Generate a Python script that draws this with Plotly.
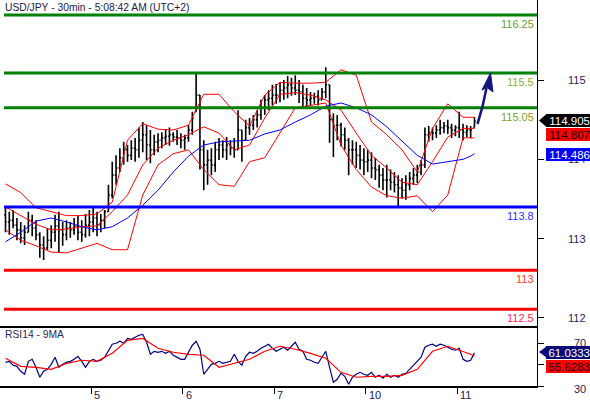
import plotly.graph_objects as go

# ---------------- data ----------------
title_text = "USD/JPY - 30min - 5:08:42 AM (UTC+2)"
rsi_title = "RSI14 - 9MA"

bar_idx = list(range(124))

opens = [113.30, 113.21, 113.23, 113.17, 113.11, 113.01, 113.08, 113.23, 113.13, 113.05, 112.92, 112.88, 112.98, 113.08, 113.16, 113.11, 113.05, 113.13, 113.11, 113.16, 113.08, 113.05, 113.17,
         113.21, 113.26, 113.17, 113.23, 113.34, 113.55, 113.80, 113.89, 114.02, 114.12, 114.05, 114.14, 114.12, 114.24, 114.31, 114.18, 114.12, 114.22, 114.24, 114.27, 114.29, 114.31, 114.28, 114.27,
         114.24, 114.27, 114.37, 114.60, 114.81, 114.12, 113.93, 113.99, 113.93, 114.12, 114.18, 114.12, 114.18, 114.14, 114.12, 114.37, 114.24, 114.40, 114.43, 114.50, 114.56, 114.65, 114.75, 114.77,
         114.81, 114.81, 114.87, 114.90, 114.94, 114.90, 114.87, 114.85, 114.77, 114.75, 114.77, 114.79, 114.75, 114.85, 114.94, 114.50, 114.43, 114.43, 114.31, 114.24, 114.12, 114.12, 114.05, 113.99,
         113.97, 113.99, 113.89, 113.87, 113.80, 113.74, 113.74, 113.71, 113.68, 113.64, 113.61, 113.68, 113.76, 113.80, 113.84, 113.93, 114.31, 114.34, 114.33, 114.37, 114.40, 114.42, 114.40, 114.37,
         114.40, 114.37, 114.34, 114.37, 114.40]
highs = [113.39, 113.34, 113.36, 113.26, 113.21, 113.17, 113.34, 113.30, 113.23, 113.08, 113.03, 113.13, 113.17, 113.30, 113.34, 113.21, 113.23, 113.21, 113.26, 113.29, 113.23, 113.31, 113.36,
         113.40, 113.34, 113.31, 113.36, 113.68, 113.97, 114.05, 114.14, 114.22, 114.18, 114.24, 114.27, 114.40, 114.47, 114.43, 114.37, 114.31, 114.33, 114.34, 114.37, 114.40, 114.34, 114.37, 114.33,
         114.31, 114.43, 114.60, 115.09, 114.81, 114.24, 114.12, 114.14, 114.22, 114.27, 114.24, 114.28, 114.24, 114.27, 114.62, 114.37, 114.50, 114.52, 114.56, 114.62, 114.75, 114.81, 114.87, 114.94,
         114.95, 114.97, 115.00, 115.05, 115.03, 115.06, 115.00, 114.94, 114.90, 114.85, 114.84, 114.87, 114.90, 115.16, 114.94, 114.58, 114.56, 114.46, 114.40, 114.27, 114.24, 114.22, 114.18, 114.14,
         114.12, 114.09, 114.02, 113.93, 113.89, 113.93, 113.87, 113.84, 113.80, 113.76, 113.80, 113.84, 113.89, 113.93, 113.99, 114.40, 114.42, 114.40, 114.43, 114.50, 114.47, 114.50, 114.45, 114.43,
         114.60, 114.45, 114.43, 114.42, 114.53]
lows = [113.08, 113.05, 113.13, 112.98, 112.94, 112.92, 113.08, 113.03, 112.98, 112.76, 112.73, 112.86, 112.88, 112.96, 112.82, 112.91, 112.98, 113.01, 113.05, 112.98, 112.96, 113.01, 113.03,
        113.08, 113.03, 113.08, 113.13, 113.34, 113.51, 113.68, 113.84, 113.93, 113.97, 113.99, 113.97, 114.02, 114.09, 113.99, 113.95, 114.05, 114.09, 114.14, 114.18, 114.17, 114.22, 114.18, 114.14,
        114.12, 114.22, 114.31, 114.60, 113.87, 113.61, 113.68, 113.80, 113.84, 113.99, 114.02, 113.99, 114.05, 114.02, 114.12, 113.97, 114.24, 114.31, 114.37, 114.40, 114.50, 114.56, 114.62, 114.68,
        114.70, 114.72, 114.75, 114.77, 114.80, 114.81, 114.71, 114.67, 114.66, 114.68, 114.70, 114.68, 114.75, 114.77, 114.21, 114.03, 114.24, 114.16, 114.12, 113.80, 113.93, 113.89, 113.87, 113.80,
        113.84, 113.76, 113.74, 113.64, 113.61, 113.52, 113.61, 113.58, 113.41, 113.51, 113.49, 113.61, 113.68, 113.70, 113.80, 113.89, 114.22, 114.24, 114.27, 114.31, 114.33, 114.32, 114.27, 114.29,
        114.27, 114.24, 114.28, 114.27, 114.40]
closes = [113.21, 113.23, 113.17, 113.11, 113.01, 113.08, 113.23, 113.13, 113.05, 112.92, 112.88, 112.98, 113.08, 113.16, 113.11, 113.05, 113.13, 113.11, 113.16, 113.08, 113.05, 113.17, 113.21,
          113.26, 113.17, 113.23, 113.34, 113.55, 113.80, 113.89, 114.02, 114.12, 114.05, 114.14, 114.12, 114.24, 114.31, 114.18, 114.12, 114.22, 114.24, 114.27, 114.29, 114.31, 114.28, 114.27, 114.24,
          114.27, 114.37, 114.52, 114.81, 114.12, 113.93, 113.99, 113.93, 114.12, 114.18, 114.12, 114.18, 114.14, 114.12, 114.37, 114.24, 114.40, 114.43, 114.50, 114.56, 114.65, 114.75, 114.77, 114.81,
          114.81, 114.87, 114.90, 114.94, 114.90, 114.87, 114.85, 114.77, 114.75, 114.77, 114.79, 114.75, 114.85, 114.94, 114.50, 114.43, 114.43, 114.31, 114.24, 114.12, 114.12, 114.05, 113.99, 113.97,
          113.99, 113.89, 113.87, 113.80, 113.74, 113.74, 113.71, 113.68, 113.64, 113.61, 113.68, 113.76, 113.80, 113.84, 113.93, 114.31, 114.34, 114.33, 114.37, 114.40, 114.42, 114.40, 114.37, 114.40,
          114.37, 114.34, 114.37, 114.37, 114.48]

band_idx = [0, 4, 8, 12, 16, 20, 24, 28, 32, 36, 40, 44, 48, 52, 56, 60, 64, 68, 72, 76, 80, 84, 88, 92,
            96, 100, 104, 108, 112, 116, 120, 122, 123]
bb_upper = [113.69, 113.58, 113.39, 113.34, 113.29, 113.29, 113.31, 113.46, 114.24, 114.45, 114.38, 114.37, 114.43,
            114.82, 114.82, 114.60, 114.42, 114.81, 114.97, 114.96, 114.96, 114.97, 115.13, 115.06, 114.47, 114.31,
            114.12, 113.84, 114.39, 114.70, 114.53, 114.53, 114.53]
bb_middle = [113.40, 113.29, 113.18, 113.11, 113.12, 113.15, 113.16, 113.34, 113.55, 113.93, 114.14, 114.24, 114.31,
             114.41, 114.33, 114.12, 114.18, 114.52, 114.82, 114.84, 114.81, 114.75, 114.62, 114.33, 114.05, 113.89,
             113.71, 113.68, 113.97, 114.28, 114.39, 114.39, 114.39]
bb_lower = [113.11, 112.98, 112.91, 112.83, 112.82, 112.88, 112.94, 112.86, 112.86, 113.55, 113.93, 114.07, 114.12,
            113.87, 113.68, 113.66, 113.97, 114.02, 114.33, 114.65, 114.68, 114.71, 114.18, 113.87, 113.65, 113.54,
            113.51, 113.54, 113.34, 113.55, 114.27, 114.27, 114.27]
ma_blue = [112.96, 113.08, 113.22, 113.26, 113.21, 113.15, 113.11, 113.15, 113.26, 113.42, 113.61, 113.84, 114.04,
           114.18, 114.22, 114.23, 114.24, 114.32, 114.37, 114.47, 114.56, 114.67, 114.71, 114.65, 114.56, 114.41,
           114.23, 114.05, 113.94, 113.97, 114.00, 114.04, 114.07]

rsi14 = [52.2, 53.1, 49.4, 48.4, 43.8, 41.0, 53.1, 55.0, 47.5, 38.2,
         43.8, 45.6, 50.3, 56.9, 47.5, 50.3, 52.2, 53.1, 55.0, 57.8,
         53.1, 47.5, 53.1, 55.0, 53.1, 54.1, 56.9, 62.5, 69.1, 70.0,
         71.9, 70.0, 74.6, 73.7, 75.6, 77.5, 78.4, 70.9, 59.7, 62.5,
         61.6, 62.5, 60.6, 62.5, 58.8, 56.9, 55.0, 55.0, 61.6, 68.2,
         71.9, 64.4, 41.0, 45.6, 50.3, 51.2, 53.1, 51.2, 52.2, 53.1,
         59.7, 53.1, 49.4, 57.8, 61.6, 60.6, 62.5, 65.3, 67.2, 69.1,
         65.3, 62.5, 64.4, 66.3, 63.5, 67.2, 70.9, 64.4, 62.5, 55.0,
         54.1, 52.2, 51.2, 56.9, 62.5, 47.5, 33.5, 36.3, 41.9, 39.1,
         31.6, 38.2, 41.0, 42.8, 41.0, 40.0, 42.8, 38.2, 40.0, 37.2,
         41.0, 38.2, 40.0, 38.2, 41.0, 41.9, 45.6, 49.4, 53.1, 56.9,
         66.3, 68.2, 69.1, 67.2, 69.1, 68.2, 66.3, 64.4, 63.5, 65.3,
         55.0, 53.1, 54.1, 61.0]
rsi_ma9 = [56.0, 48.4, 47.5, 45.6, 51.2, 54.1, 53.1, 60.6, 72.8, 74.6, 65.3, 61.6, 59.7, 58.8, 47.5, 51.2, 55.0,
           62.5, 67.2, 64.4, 60.6, 56.0, 42.8, 38.2, 39.1, 39.1, 40.0, 45.6, 62.5, 67.2, 62.5, 59.7, 57.8]

day_ticks = [22.5, 46.5, 70.5, 94.5, 118.5]
day_labels = ["5", "6", "7", "10", "11"]

price_ticks = [112, 113, 114, 115]
price_tick_labels = ["112", "113", "114", "115"]
rsi_ticks = [30, 50, 70]
rsi_tick_labels = ["30", "50", "70"]

level_values = [115.82, 115.09, 114.65, 113.40, 112.60, 112.11]
level_labels = ["116.25", "115.5", "115.05", "113.8", "113", "112.5"]
level_colors = ["#008000", "#008000", "#008000", "#0000ff", "#ff0000", "#ff0000"]
level_text_colors = ["#6c9c2c", "#8cb02a", "#7aa42a", "#3030ff", "#ff3a1a", "#ff2a4a"]

price_tags = ["114.905", "114.807", "114.486"]
rsi_tags = ["61.0333", "55.6283"]

# ---------------- layout helpers (pixel -> paper) ----------------
W, H = 590, 400
ML, MR, MT, MB = 0, 53, 0, 14
PW, PH = W - ML - MR, H - MT - MB


def px(x):
    return (x - ML) / PW


def py(y):
    return (H - MB - y) / PH


FONT = "Liberation Sans, Arial, sans-serif"
main_dom = [py(326), 1.0]
rsi_dom = [0.0, py(326)]
x_range = [-1.44, 139.4]

fig = go.Figure()

fig.add_trace(go.Ohlc(
    x=bar_idx, open=opens, high=highs, low=lows, close=closes,
    increasing=dict(line=dict(color="black", width=1.6)),
    decreasing=dict(line=dict(color="black", width=1.6)),
    tickwidth=0.35, hoverinfo="skip", xaxis="x", yaxis="y"))

for band in (bb_upper, bb_middle, bb_lower):
    fig.add_trace(go.Scatter(x=band_idx, y=band, mode="lines",
                             line=dict(color="#ff0000", width=1), xaxis="x", yaxis="y", hoverinfo="skip"))
fig.add_trace(go.Scatter(x=band_idx, y=ma_blue, mode="lines",
                         line=dict(color="#0000ff", width=1), xaxis="x", yaxis="y", hoverinfo="skip"))

fig.add_trace(go.Scatter(x=bar_idx, y=rsi14, mode="lines",
                         line=dict(color="#000080", width=1.2), xaxis="x2", yaxis="y2", hoverinfo="skip"))
fig.add_trace(go.Scatter(x=band_idx, y=rsi_ma9, mode="lines",
                         line=dict(color="#ff0000", width=1.2), xaxis="x2", yaxis="y2", hoverinfo="skip"))

shapes = []
for val, col in zip(level_values, level_colors):
    shapes.append(dict(type="line", xref="paper", yref="y", x0=px(4), x1=1, y0=val, y1=val,
                       line=dict(color=col, width=3), layer="above"))

# price tag pointers
shapes.append(dict(type="path", xref="paper", yref="paper", layer="above",
                   path=f"M {px(539)} {py(120.5)} L {px(546.5)} {py(114)} L {px(546.5)} {py(127)} Z",
                   fillcolor="black", line=dict(width=0)))
shapes.append(dict(type="path", xref="paper", yref="paper", layer="above",
                   path=f"M {px(539)} {py(352)} L {px(546.5)} {py(346.5)} L {px(546.5)} {py(357.5)} Z",
                   fillcolor="#0a0a78", line=dict(width=0)))

# arrow
shapes.append(dict(type="path", xref="paper", yref="paper", layer="above",
                   path=f"M {px(477.5)} {py(124)} Q {px(483)} {py(107)} {px(486.5)} {py(88)}",
                   line=dict(color="#15157f", width=2.5)))
shapes.append(dict(type="path", xref="paper", yref="paper", layer="above",
                   path=f"M {px(490.5)} {py(73)} L {px(482)} {py(90)} L {px(487)} {py(87.5)} L {px(493)} {py(92)} Z",
                   fillcolor="#15157f", line=dict(color="#15157f", width=1)))

ann = []
ann.append(dict(text=title_text, xref="paper", yref="paper", x=px(3), y=py(8), xanchor="left",
                yanchor="middle", showarrow=False, font=dict(family=FONT, size=10.3, color="#1a1a44")))
ann.append(dict(text=rsi_title, xref="paper", yref="paper", x=px(3), y=py(334), xanchor="left",
                yanchor="middle", showarrow=False, font=dict(family=FONT, size=10.3, color="#2a2a5a")))

for val, lab, tc in zip(level_values, level_labels, level_text_colors):
    ann.append(dict(text=lab, xref="paper", yref="y", x=1, y=val, xanchor="right", yanchor="top",
                    xshift=-1, yshift=-1, showarrow=False, font=dict(family=FONT, size=11, color=tc)))

for val, lab in zip(price_ticks, price_tick_labels):
    ann.append(dict(text=lab, xref="paper", yref="y", x=px(588), y=val, xanchor="right", yanchor="middle",
                    showarrow=False, font=dict(family=FONT, size=11, color="#2b1b5a")))
for val, lab in zip(rsi_ticks, rsi_tick_labels):
    ann.append(dict(text=lab, xref="paper", yref="y2", x=px(588), y=val, xanchor="right", yanchor="middle",
                    yshift=(-3 if val == 30 else 0),
                    showarrow=False, font=dict(family=FONT, size=11, color="#2b1b5a")))

for tv, lab in zip(day_ticks, day_labels):
    ann.append(dict(text=lab, xref="x2", yref="paper", x=tv, y=py(394.5), xanchor="left", yanchor="middle",
                    xshift=1, showarrow=False, font=dict(family=FONT, size=11, color="#1a1a55")))

tag_specs = [
    (price_tags[0], 120.5, "black", "white"),
    (price_tags[1], 134.5, "#ff0000", "#220000"),
    (price_tags[2], 154.0, "#0000ff", "white"),
    (rsi_tags[0], 352.0, "#0a0a78", "white"),
    (rsi_tags[1], 366.0, "#ff0000", "#220000"),
]
for txt, yc, bg, fg in tag_specs:
    ann.append(dict(text=txt, xref="paper", yref="paper", x=px(546), y=py(yc), xanchor="left",
                    yanchor="middle", showarrow=False, bgcolor=bg, borderpad=0, borderwidth=0,
                    width=44, height=13, align="right",
                    font=dict(family=FONT, size=11.5, color=fg)))

fig.update_layout(
    width=W, height=H, margin=dict(l=ML, r=MR, t=MT, b=MB),
    paper_bgcolor="white", plot_bgcolor="white", showlegend=False,
    shapes=shapes, annotations=ann,
    xaxis=dict(domain=[0, 1], anchor="y", range=x_range, showgrid=False, zeroline=False,
               showticklabels=False, ticks="", showline=True, linecolor="black", linewidth=1.5,
               rangeslider=dict(visible=False), fixedrange=True),
    yaxis=dict(domain=main_dom, anchor="x", side="right", range=[111.898, 116.009], showgrid=False,
               zeroline=False, tickvals=price_ticks, showticklabels=False, ticks="outside", ticklen=6,
               tickcolor="black", showline=True, linecolor="black", linewidth=1),
    xaxis2=dict(domain=[0, 1], anchor="y2", range=x_range, showgrid=False, zeroline=False,
                tickvals=day_ticks, showticklabels=False, ticks="outside", ticklen=6, tickcolor="black",
                showline=True, linecolor="black", linewidth=1.5),
    yaxis2=dict(domain=rsi_dom, anchor="x2", side="right", range=[30, 86.2], showgrid=False,
                zeroline=False, tickvals=rsi_ticks, showticklabels=False, ticks="outside", ticklen=6,
                tickcolor="black", showline=True, linecolor="black", linewidth=1),
)

fig.write_html("out.html", config={"displayModeBar": False},
               post_script="document.body.style.margin='0';document.body.style.overflow='hidden';")
